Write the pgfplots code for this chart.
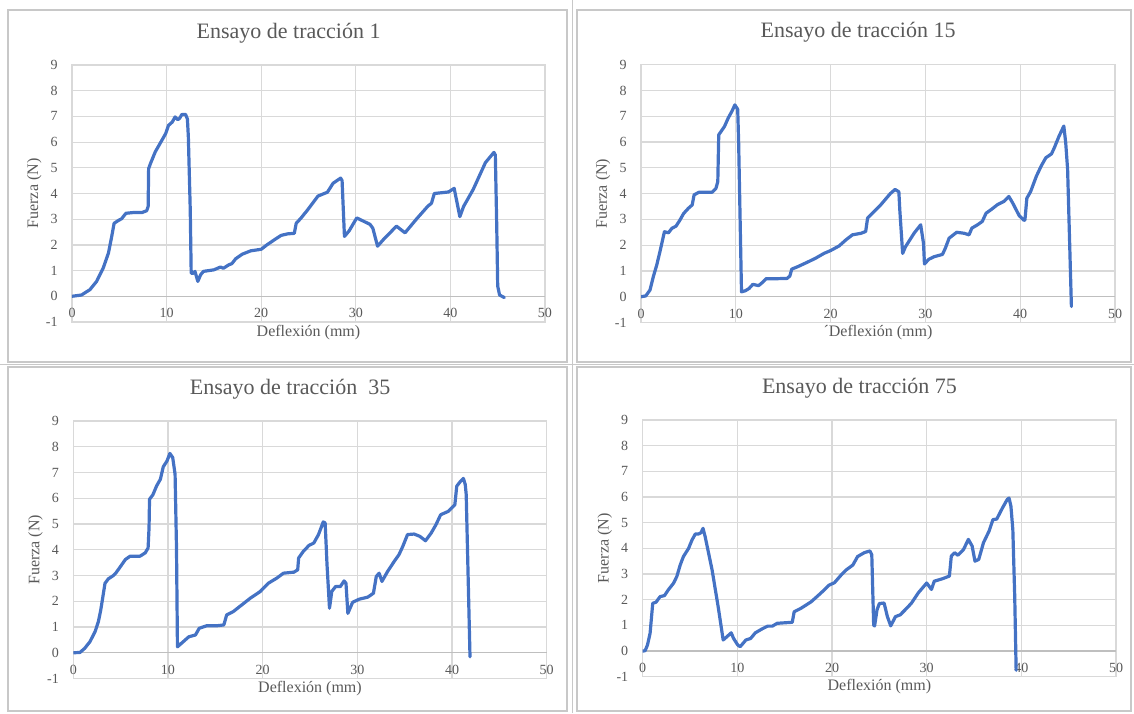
\documentclass[border=0pt]{standalone}
\usepackage{fontspec}
\setmainfont{Liberation Serif}
\usepackage{pgfplots}
\pgfplotsset{compat=1.18}
\definecolor{lineb}{HTML}{4472C4}
\definecolor{txtc}{HTML}{595959}
\definecolor{gridc}{HTML}{D9D9D9}
\definecolor{axc}{HTML}{BFBFBF}
\definecolor{framec}{HTML}{C8C8C8}
\pgfplotsset{
  myax/.style={
    scale only axis,
    xmin=0, xmax=50, ymin=-1, ymax=9,
    xtick={0,10,...,50}, ytick={-1,0,...,9},
    grid=major,
    major grid style={color=gridc, line width=0.6pt},
    axis line style={draw=gridc, line width=0.6pt},
    major tick length=0pt,
    tick style={draw=none},
    /pgf/number format/assume math mode=true,
    ticklabel style={font=\fontsize{7}{8}\selectfont, text=txtc},
    xticklabel style={anchor=center, yshift=4.5pt},
    yticklabel style={anchor=east, xshift=-3.7pt},
    extra y ticks={0},
    extra y tick labels={},
    extra y tick style={grid=major, major grid style={color=axc, line width=0.6pt}},
    every axis title/.style={at={(axis description cs:0.458,1.125)}, anchor=center, font=\fontsize{11}{13}\selectfont, text=txtc},
    xlabel style={at={(axis description cs:0.5,-0.04)}, anchor=center, font=\fontsize{8}{9}\selectfont, text=txtc},
    ylabel style={at={(axis description cs:-0.08,0.5)}, anchor=center, font=\fontsize{8}{9}\selectfont, text=txtc},
    ylabel={Fuerza (N)},
  },
  curve/.style={color=lineb, line width=1.6pt, line join=round, line cap=round, mark=none},
}
\pgfplotstableread{
x y
0 0
1.0 0.05
1.9 0.26
2.6 0.58
3.3 1.1
3.85 1.68
4.2 2.33
4.45 2.84
4.9 2.95
5.25 3.02
5.7 3.23
6.5 3.26
7.4 3.26
7.9 3.33
8.05 3.5
8.1 4.97
8.3 5.17
8.8 5.62
9.5 6.07
9.9 6.33
10.2 6.65
10.6 6.78
10.9 6.98
11.2 6.87
11.4 6.94
11.6 7.07
12.0 7.08
12.2 6.9
12.3 6.2
12.5 3.36
12.6 0.9
12.85 0.9
13.0 0.97
13.3 0.58
13.6 0.84
13.9 0.97
15.0 1.03
15.7 1.14
16.0 1.09
16.6 1.23
16.9 1.27
17.3 1.46
18.0 1.64
18.9 1.77
20.0 1.83
20.6 2.0
21.4 2.2
22.1 2.37
22.8 2.43
23.5 2.45
23.7 2.84
24.2 3.04
24.9 3.36
26.0 3.9
27.0 4.05
27.6 4.4
28.4 4.6
28.55 4.5
28.8 2.33
29.3 2.55
30.1 3.05
31.5 2.8
31.8 2.65
32.3 1.95
32.9 2.2
34.3 2.73
35.2 2.47
36.4 3.0
37.6 3.5
38.0 3.62
38.3 4.0
39.8 4.06
40.4 4.2
41.0 3.1
41.4 3.5
42.4 4.15
43.7 5.2
44.6 5.6
44.75 5.5
44.9 2.7
45.0 0.4
45.2 0.05
45.7 -0.05
}\dataA
\pgfplotstableread{
x y
0 0
0.5 0.03
0.95 0.26
1.3 0.78
1.66 1.23
2.0 1.75
2.47 2.52
2.9 2.48
3.25 2.65
3.7 2.74
4.1 2.97
4.5 3.23
5.0 3.43
5.4 3.56
5.6 3.95
6.1 4.05
7.5 4.05
7.9 4.2
8.1 4.46
8.2 6.28
8.8 6.6
9.2 6.93
9.6 7.2
9.9 7.44
10.2 7.27
10.3 5.97
10.6 0.19
11.0 0.23
11.4 0.32
11.8 0.48
12.4 0.43
12.8 0.55
13.2 0.7
14.4 0.7
15.4 0.71
15.7 0.8
15.9 1.07
16.5 1.16
17.5 1.33
18.4 1.49
19.3 1.68
20.0 1.79
20.9 1.97
21.6 2.2
22.3 2.4
23.2 2.46
23.7 2.53
23.9 3.05
24.6 3.31
25.3 3.57
26.3 4.0
26.8 4.16
27.2 4.07
27.3 3.36
27.6 1.68
27.9 1.94
28.8 2.46
29.5 2.79
29.8 2.07
29.9 1.27
30.35 1.45
30.9 1.55
31.8 1.64
32.1 1.88
32.5 2.27
33.3 2.5
34.1 2.46
34.6 2.4
34.9 2.66
35.5 2.79
36.0 2.92
36.4 3.24
36.9 3.37
37.6 3.57
38.3 3.7
38.8 3.89
39.2 3.64
39.9 3.14
40.4 2.96
40.5 2.98
40.7 3.82
41.1 4.08
41.7 4.67
42.2 5.06
42.7 5.39
43.3 5.54
43.6 5.78
44.1 6.23
44.6 6.62
44.8 5.97
45.0 4.94
45.4 -0.38
}\dataB
\pgfplotstableread{
x y
0 0
0.7 0.01
1.2 0.17
1.76 0.43
2.3 0.82
2.65 1.21
2.9 1.66
3.1 2.12
3.35 2.7
3.7 2.87
4.2 2.99
4.5 3.1
4.87 3.29
5.5 3.62
6.0 3.75
7.05 3.75
7.6 3.88
7.9 4.07
8.0 4.85
8.05 5.96
8.4 6.13
8.8 6.48
9.2 6.74
9.5 7.22
9.9 7.45
10.2 7.74
10.5 7.58
10.75 6.93
10.9 4.07
11.0 0.23
11.4 0.36
12.2 0.62
12.9 0.69
13.3 0.95
14.1 1.05
15.2 1.05
15.9 1.08
16.2 1.47
16.9 1.6
17.8 1.86
18.7 2.12
19.75 2.38
20.6 2.7
21.5 2.9
22.2 3.09
23.3 3.13
23.7 3.22
23.8 3.68
24.3 3.94
24.9 4.17
25.4 4.26
25.9 4.59
26.4 5.08
26.6 5.04
26.8 3.41
27.06 1.73
27.3 2.38
27.7 2.57
28.2 2.57
28.6 2.79
28.8 2.7
29.0 1.53
29.5 1.96
30.2 2.08
31.1 2.16
31.7 2.31
32.0 2.96
32.3 3.09
32.6 2.77
33.2 3.16
33.9 3.55
34.4 3.81
34.8 4.13
35.3 4.59
36.0 4.61
36.6 4.52
37.2 4.35
37.8 4.65
38.3 4.97
38.8 5.36
39.6 5.49
40.3 5.75
40.5 6.47
40.9 6.66
41.2 6.77
41.4 6.53
41.5 6.14
41.9 -0.16
}\dataC
\pgfplotstableread{
x y
0 0
0.25 0.01
0.5 0.23
0.78 0.69
1.06 1.86
1.4 1.9
1.84 2.12
2.3 2.16
2.7 2.38
3.25 2.64
3.6 2.9
3.96 3.35
4.3 3.68
4.85 4.0
5.2 4.32
5.56 4.56
5.9 4.56
6.16 4.61
6.37 4.78
6.6 4.45
7.33 3.16
8.0 1.66
8.5 0.43
8.9 0.56
9.35 0.71
9.6 0.49
10.05 0.23
10.3 0.17
10.9 0.43
11.4 0.49
11.9 0.71
12.6 0.86
13.2 0.97
13.7 0.97
14.2 1.08
15.0 1.1
15.8 1.12
16.0 1.53
16.7 1.66
17.8 1.92
18.8 2.25
19.7 2.57
20.25 2.66
20.96 2.96
21.5 3.16
22.2 3.35
22.7 3.68
23.4 3.83
24.0 3.9
24.2 3.75
24.4 1.0
24.5 0.98
24.75 1.6
25.0 1.85
25.5 1.87
25.85 1.34
26.2 0.98
26.7 1.34
27.2 1.41
27.9 1.67
28.4 1.87
29.1 2.26
30.0 2.65
30.5 2.4
30.8 2.72
31.7 2.82
32.4 2.92
32.6 3.7
32.95 3.83
33.3 3.73
33.9 3.96
34.4 4.35
34.8 4.09
35.1 3.5
35.5 3.57
36.0 4.22
36.6 4.68
37.0 5.12
37.4 5.14
38.0 5.57
38.5 5.9
38.7 5.96
38.9 5.64
39.1 4.73
39.3 2.13
39.45 -0.75
}\dataD
\begin{document}
\begin{tikzpicture}
\path[use as bounding box] (0,0) rectangle (567pt,356.5pt);
% panel frames
\draw[framec, line width=0.6pt] (4pt,175.5pt) rectangle (283.5pt,351.5pt);
\draw[framec, line width=0.6pt] (288.5pt,175.5pt) rectangle (565.5pt,351.5pt);
\draw[framec, line width=0.6pt] (4pt,1pt) rectangle (283.5pt,173pt);
\draw[framec, line width=0.6pt] (288.5pt,1pt) rectangle (565.5pt,173pt);
\draw[framec, line width=0.5pt] (286pt,0pt) -- (286pt,356.5pt);
\draw[framec, line width=0.5pt] (0pt,174.25pt) -- (567pt,174.25pt);

\begin{axis}[myax, at={(36pt,195.5pt)}, anchor=south west, width=236.5pt, height=128.5pt,
  title={Ensayo de tracción 1}, xlabel={Deflexión (mm)}]
\addplot[curve] table[x=x,y=y] {\dataA};
\end{axis}

\begin{axis}[myax, at={(320.5pt,195.25pt)}, anchor=south west, width=237pt, height=128.9pt,
  title={Ensayo de tracción 15}, xlabel={´Deflexión (mm)}]
\addplot[curve] table[x=x,y=y] {\dataB};
\end{axis}

\begin{axis}[myax, at={(36.65pt,17.25pt)}, anchor=south west, width=236.7pt, height=128.75pt,
  title={Ensayo de tracción\ \ 35}, xlabel={Deflexión (mm)}]
\addplot[curve] table[x=x,y=y] {\dataC};
\end{axis}

\begin{axis}[myax, at={(321.35pt,18.15pt)}, anchor=south west, width=236.65pt, height=128.35pt,
  title={Ensayo de tracción 75}, xlabel={Deflexión (mm)}]
\addplot[curve] table[x=x,y=y] {\dataD};
\end{axis}
\end{tikzpicture}
\end{document}
